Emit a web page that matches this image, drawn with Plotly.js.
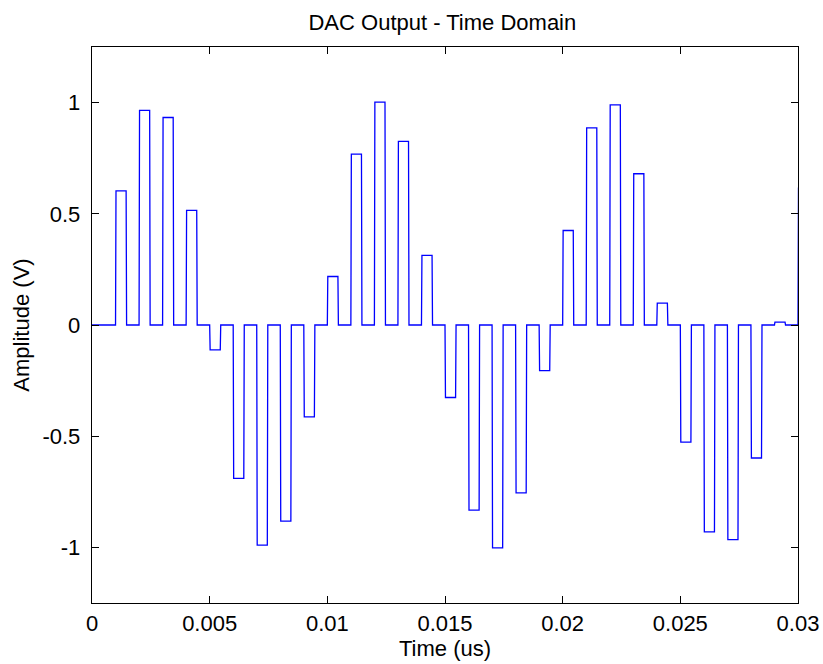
<!DOCTYPE html>
<html>
<head>
<meta charset="utf-8">
<script src="https://cdn.plot.ly/plotly-3.0.1.min.js"></script>
<style>html,body{margin:0;padding:0;background:#fff;}#chart{width:823px;height:664px;}</style>
</head>
<body>
<div id="chart"></div>
<script>
// Sample instants (us) at which each DAC pulse starts
var pulseStart = [0.001, 0.002, 0.003, 0.004, 0.005, 0.006, 0.007, 0.008, 0.009, 0.010,
                  0.011, 0.012, 0.013, 0.014, 0.015, 0.016, 0.017, 0.018, 0.019, 0.020,
                  0.021, 0.022, 0.023, 0.024, 0.025, 0.026, 0.027, 0.028, 0.029, 0.030];
// Pulse amplitudes (V)
var pulseValue = [0.603, 0.965, 0.933, 0.515, -0.112, -0.690, -0.990, -0.882, -0.413, 0.218,
                  0.768, 1.002, 0.826, 0.313, -0.326, -0.832, -1.002, -0.755, -0.205, 0.425,
                  0.886, 0.990, 0.680, 0.098, -0.527, -0.930, -0.965, -0.598, 0.013, 0.615];
var xTicks = [0, 0.005, 0.01, 0.015, 0.02, 0.025, 0.03];
var xTickText = ['0', '0.005', '0.01', '0.015', '0.02', '0.025', '0.03'];
var yTicks = [-1, -0.5, 0, 0.5, 1];
var yTickText = ['-1', '-0.5', '0', '0.5', '1'];

// return-to-zero pulse shape parameters
var pulseWidth = 0.00045, edge = 0.00002;

var xs = [0], ys = [0];
for (var i = 0; i < pulseStart.length; i++) {
  var t0 = pulseStart[i];
  xs.push(t0, t0 + edge, t0 + pulseWidth, t0 + pulseWidth + edge);
  ys.push(0, pulseValue[i], pulseValue[i], 0);
}

var font = {family: 'Liberation Sans, Arial, sans-serif', size: 22, color: '#000'};

Plotly.newPlot('chart', [{
  x: xs, y: ys, type: 'scatter', mode: 'lines',
  line: {color: '#0000ff', width: 1.3}, hoverinfo: 'skip'
}], {
  width: 823, height: 664,
  margin: {l: 92, r: 25, t: 47, b: 61},
  paper_bgcolor: '#fff', plot_bgcolor: '#fff',
  showlegend: false,
  font: font,
  title: {text: 'DAC Output - Time Domain', font: font, x: 0.5375, xanchor: 'center', y: 0.967, yanchor: 'middle'},
  xaxis: {
    range: [0, 0.03], tickvals: xTicks, ticktext: xTickText,
    showline: true, linecolor: '#000', linewidth: 1.3, mirror: 'ticks',
    ticks: 'inside', ticklen: 7, tickcolor: '#000', zeroline: false, showgrid: false,
    tickfont: font, ticklabelstandoff: 0,
    title: {text: 'Time (us)', font: font, standoff: 4}
  },
  yaxis: {
    range: [-1.25, 1.25], tickvals: yTicks, ticktext: yTickText,
    showline: true, linecolor: '#000', linewidth: 1.3, mirror: 'ticks',
    ticks: 'inside', ticklen: 7, tickcolor: '#000', zeroline: false, showgrid: false,
    tickfont: font, ticklabelstandoff: 6,
    title: {text: 'Amplitude (V)', font: font, standoff: 6}
  }
}, {staticPlot: true});
</script>
</body>
</html>
